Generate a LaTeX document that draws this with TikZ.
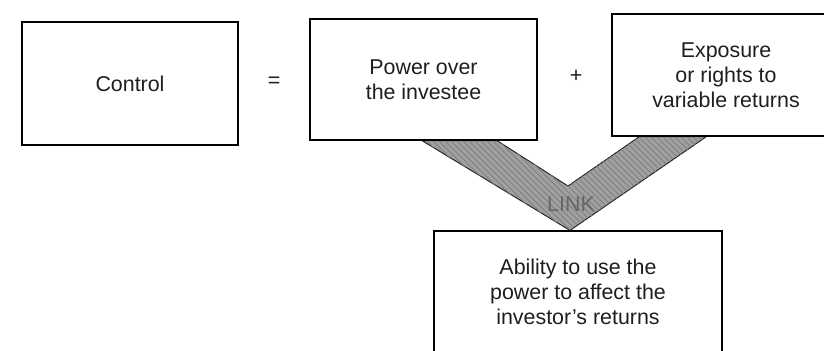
\documentclass[tikz,border=0pt]{standalone}
\usepackage{fontspec}
\setmainfont{Liberation Sans}
\usepackage{tikz}
\usetikzlibrary{calc, backgrounds, patterns}
\definecolor{linkcolor}{HTML}{A0A0A0}
\definecolor{textcolor}{HTML}{1E1E1E}

\begin{document}
\begin{tikzpicture}[x=0.5pt, y=-0.5pt,
    box/.style={draw, line width=0.6pt, align=center, text=textcolor,
                font=\fontsize{10.7}{12.5}\selectfont, inner sep=0pt},
    sign/.style={font=\fontsize{10.7}{12.5}\selectfont, text=textcolor},
    link/.style={draw=black!85, line width=0.5pt, fill=linkcolor,
                 postaction={pattern=north west lines, pattern color=black!50}}
]
    \useasboundingbox (0,0) rectangle (824,350);
    \clip (0,0) rectangle (824,350);

    \node[box, minimum width=108pt, minimum height=61.5pt] (control) at (130,83.5) {Control};
    \node[box, minimum width=113.5pt, minimum height=60.5pt] (power) at (423.5,79.5)
        {Power over\\the investee};
    \node[box, minimum width=114pt, minimum height=61pt] (exposure) at (726,75)
        {Exposure\\or rights to\\variable returns};
    \node[box, minimum width=144pt, minimum height=61pt] (ability) at (578,292)
        {Ability to use the\\power to affect the\\investor's returns};

    \node[sign] (equals) at (274,82) {=};
    \node[sign] (plus) at (576,76) {+};

    % the V that joins the two parts to the ability box
    \begin{scope}[on background layer]
        \draw[link] ($(power.south)+(-1.5,0)$) -- ($(power.south)+(73.5,0)$)
            -- (568,186) -- ($(exposure.south west)+(28,0)$)
            -- ($(exposure.south west)+(95,0)$) -- ($(ability.north)+(-8,0)$) -- cycle;
    \end{scope}
    \node[sign, text=black!60] (linktext) at (571,204) {LINK};
\end{tikzpicture}
\end{document}
